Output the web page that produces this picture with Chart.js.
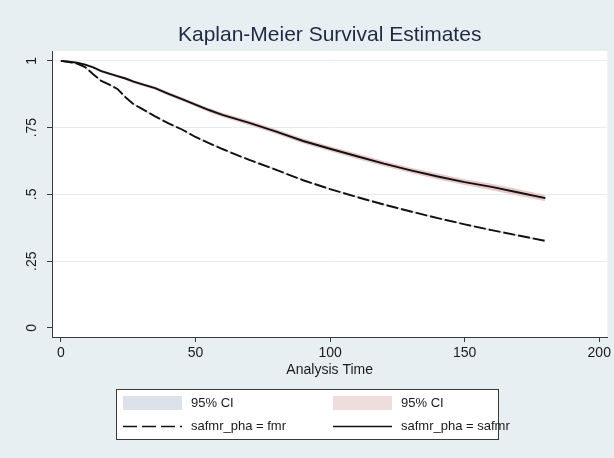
<!DOCTYPE html>
<html>
<head>
<meta charset="utf-8">
<script src="https://cdn.jsdelivr.net/npm/chart.js@4"></script>
<style>
  html, body { margin: 0; padding: 0; background: #e8eff2; }
  #wrap { width: 614px; height: 458px; }
</style>
</head>
<body>
<div id="wrap"><canvas id="km" width="614" height="458"></canvas></div>
<script>
// analysis time (x values shared by all series)
var times = [0, 3, 6, 9, 12, 15, 18, 21, 24, 27, 30, 35, 40, 45, 50, 55, 60, 70, 80, 90, 100, 110, 120, 130, 140, 150, 160, 170, 180];

// survival estimate, safmr_pha = safmr (solid)
var safmrSurv = [1, 0.997, 0.993, 0.986, 0.976, 0.962, 0.952, 0.943, 0.934, 0.922, 0.913, 0.898, 0.876, 0.857, 0.836, 0.816, 0.798, 0.768, 0.735, 0.700, 0.671, 0.643, 0.615, 0.590, 0.567, 0.546, 0.528, 0.507, 0.486];
var safmrLow  = [1, 0.995, 0.990, 0.982, 0.972, 0.957, 0.947, 0.938, 0.928, 0.916, 0.907, 0.892, 0.869, 0.850, 0.829, 0.808, 0.790, 0.759, 0.726, 0.691, 0.662, 0.633, 0.605, 0.580, 0.556, 0.535, 0.516, 0.495, 0.474];
var safmrHigh = [1, 0.999, 0.996, 0.990, 0.980, 0.967, 0.957, 0.948, 0.940, 0.928, 0.919, 0.904, 0.883, 0.864, 0.843, 0.824, 0.806, 0.777, 0.744, 0.709, 0.680, 0.653, 0.625, 0.600, 0.578, 0.557, 0.540, 0.519, 0.498];

// survival estimate, safmr_pha = fmr (dashed)
var fmrSurv = [1, 0.996, 0.990, 0.977, 0.950, 0.925, 0.911, 0.895, 0.864, 0.838, 0.821, 0.792, 0.766, 0.743, 0.715, 0.692, 0.670, 0.629, 0.592, 0.553, 0.520, 0.490, 0.462, 0.436, 0.411, 0.388, 0.366, 0.346, 0.326];
var fmrLow  = [1, 0.995, 0.988, 0.974, 0.947, 0.922, 0.908, 0.892, 0.861, 0.835, 0.818, 0.789, 0.763, 0.740, 0.712, 0.689, 0.667, 0.626, 0.589, 0.550, 0.517, 0.487, 0.459, 0.433, 0.408, 0.385, 0.363, 0.343, 0.323];
var fmrHigh = [1, 0.997, 0.992, 0.980, 0.953, 0.928, 0.914, 0.898, 0.867, 0.841, 0.824, 0.795, 0.769, 0.746, 0.718, 0.695, 0.673, 0.632, 0.595, 0.556, 0.523, 0.493, 0.465, 0.439, 0.414, 0.391, 0.369, 0.349, 0.329];

var xTicks = [0, 50, 100, 150, 200];
var yTicks = [0, 0.25, 0.5, 0.75, 1];
var yTickLabels = ['0', '.25', '.5', '.75', '1'];
var titleText = 'Kaplan-Meier Survival Estimates';

var FONT = '"Liberation Sans", Arial, sans-serif';

function pts(arr) {
    return times.map(function (t, i) { return { x: t, y: arr[i] }; });
}

// white plot region on the bluish graph region, title centred over the plot
var bgPlugin = {
    id: 'kmBackground',
    beforeDraw: function (chart) {
        var ctx = chart.ctx, a = chart.chartArea;
        ctx.save();
        ctx.fillStyle = '#e8eff2';
        ctx.fillRect(0, 0, chart.width, chart.height);
        ctx.fillStyle = '#ffffff';
        ctx.fillRect(a.left, a.top, a.right - a.left, a.bottom - a.top);
        ctx.fillStyle = '#1e2a44';
        ctx.font = '21px ' + FONT;
        ctx.textAlign = 'center';
        ctx.textBaseline = 'middle';
        ctx.fillText(titleText, (a.left + a.right) / 2, 35);
        ctx.restore();
    }
};

// stata style legend box, two columns
var legendPlugin = {
    id: 'kmLegend',
    afterDraw: function (chart) {
        var ctx = chart.ctx;
        var ds = chart.data.datasets;
        var items = [
            { kind: 'area', ds: ds[5] },
            { kind: 'area', ds: ds[3] },
            { kind: 'line', ds: ds[1] },
            { kind: 'line', ds: ds[0] }
        ];
        var boxL = 116, boxT = 389, boxW = 382, boxH = 50;
        ctx.save();
        ctx.fillStyle = '#ffffff';
        ctx.fillRect(boxL, boxT, boxW, boxH);
        ctx.strokeStyle = '#3a3a3a';
        ctx.lineWidth = 1;
        ctx.strokeRect(boxL + 0.5, boxT + 0.5, boxW, boxH);
        ctx.font = '13px ' + FONT;
        ctx.textBaseline = 'middle';
        items.forEach(function (it, i) {
            var col = i % 2, row = Math.floor(i / 2);
            var sx = 123 + col * 210, cy = 403 + row * 23;
            if (it.kind === 'area') {
                ctx.fillStyle = it.ds.legendColor;
                ctx.fillRect(sx, cy - 7, 59, 14);
            } else {
                ctx.strokeStyle = it.ds.borderColor;
                ctx.lineWidth = 1.6;
                ctx.setLineDash(it.ds.borderDash ? [14, 5] : []);
                ctx.beginPath();
                ctx.moveTo(sx, cy + 0.5);
                ctx.lineTo(sx + 59, cy + 0.5);
                ctx.stroke();
                ctx.setLineDash([]);
            }
            ctx.fillStyle = '#1a1a1a';
            ctx.fillText(it.ds.label, sx + 68, cy);
        });
        ctx.restore();
    }
};

var data = {
    datasets: [
        { label: 'safmr_pha = safmr', data: pts(safmrSurv), borderColor: '#111111', borderWidth: 1.9, fill: false },
        { label: 'safmr_pha = fmr', data: pts(fmrSurv), borderColor: '#111111', borderWidth: 1.9, borderDash: [12, 3], fill: false },
        { label: 'safmr low', data: pts(safmrLow), borderWidth: 0, borderColor: 'rgba(0,0,0,0)', fill: false },
        { label: '95% CI', data: pts(safmrHigh), borderWidth: 0, borderColor: 'rgba(0,0,0,0)', backgroundColor: '#e9c9c9', legendColor: '#efdcdc', fill: 2 },
        { label: 'fmr low', data: pts(fmrLow), borderWidth: 0, borderColor: 'rgba(0,0,0,0)', fill: false },
        { label: '95% CI', data: pts(fmrHigh), borderWidth: 0, borderColor: 'rgba(0,0,0,0)', backgroundColor: '#d5dce6', legendColor: '#dde2ea', fill: 4 }
    ]
};

var chart = new Chart(document.getElementById('km').getContext('2d'), {
    type: 'line',
    data: data,
    plugins: [bgPlugin, legendPlugin],
    options: {
        responsive: false,
        animation: false,
        events: [],
        elements: { point: { radius: 0 }, line: { tension: 0 } },
        layout: { padding: { left: 0, right: 5, top: 51, bottom: 70 } },
        plugins: {
            legend: { display: false },
            tooltip: { enabled: false },
            title: { display: false }
        },
        scales: {
            x: {
                type: 'linear',
                min: -3.3,
                max: 203,
                afterBuildTicks: function (s) { s.ticks = xTicks.map(function (v) { return { value: v }; }); },
                afterFit: function (s) { s.height = 51; },
                border: { color: '#3a3a3a', width: 1 },
                grid: { drawOnChartArea: false, tickColor: '#3a3a3a', tickLength: 5 },
                ticks: { color: '#1a1a1a', font: { family: FONT, size: 14 }, padding: 3, maxRotation: 0 },
                title: { display: true, text: 'Analysis Time', color: '#1a1a1a', font: { family: FONT, size: 14 }, padding: { top: 2, bottom: 9 } }
            },
            y: {
                type: 'linear',
                min: -0.034,
                max: 1.037,
                afterBuildTicks: function (s) { s.ticks = yTicks.map(function (v) { return { value: v }; }); },
                afterFit: function (s) { s.width = 52; },
                border: { color: '#3a3a3a', width: 1 },
                grid: {
                    color: function (c) { return c.tick && c.tick.value === 0 ? 'rgba(0,0,0,0)' : '#e6edf0'; },
                    tickColor: '#3a3a3a',
                    tickLength: 5
                },
                ticks: {
                    color: '#1a1a1a',
                    font: { family: FONT, size: 14 },
                    padding: 5,
                    minRotation: 90,
                    maxRotation: 90,
                    crossAlign: 'center',
                    callback: function (v) { var i = yTicks.indexOf(v); return i >= 0 ? yTickLabels[i] : ''; }
                }
            }
        }
    }
});
</script>
</body>
</html>
